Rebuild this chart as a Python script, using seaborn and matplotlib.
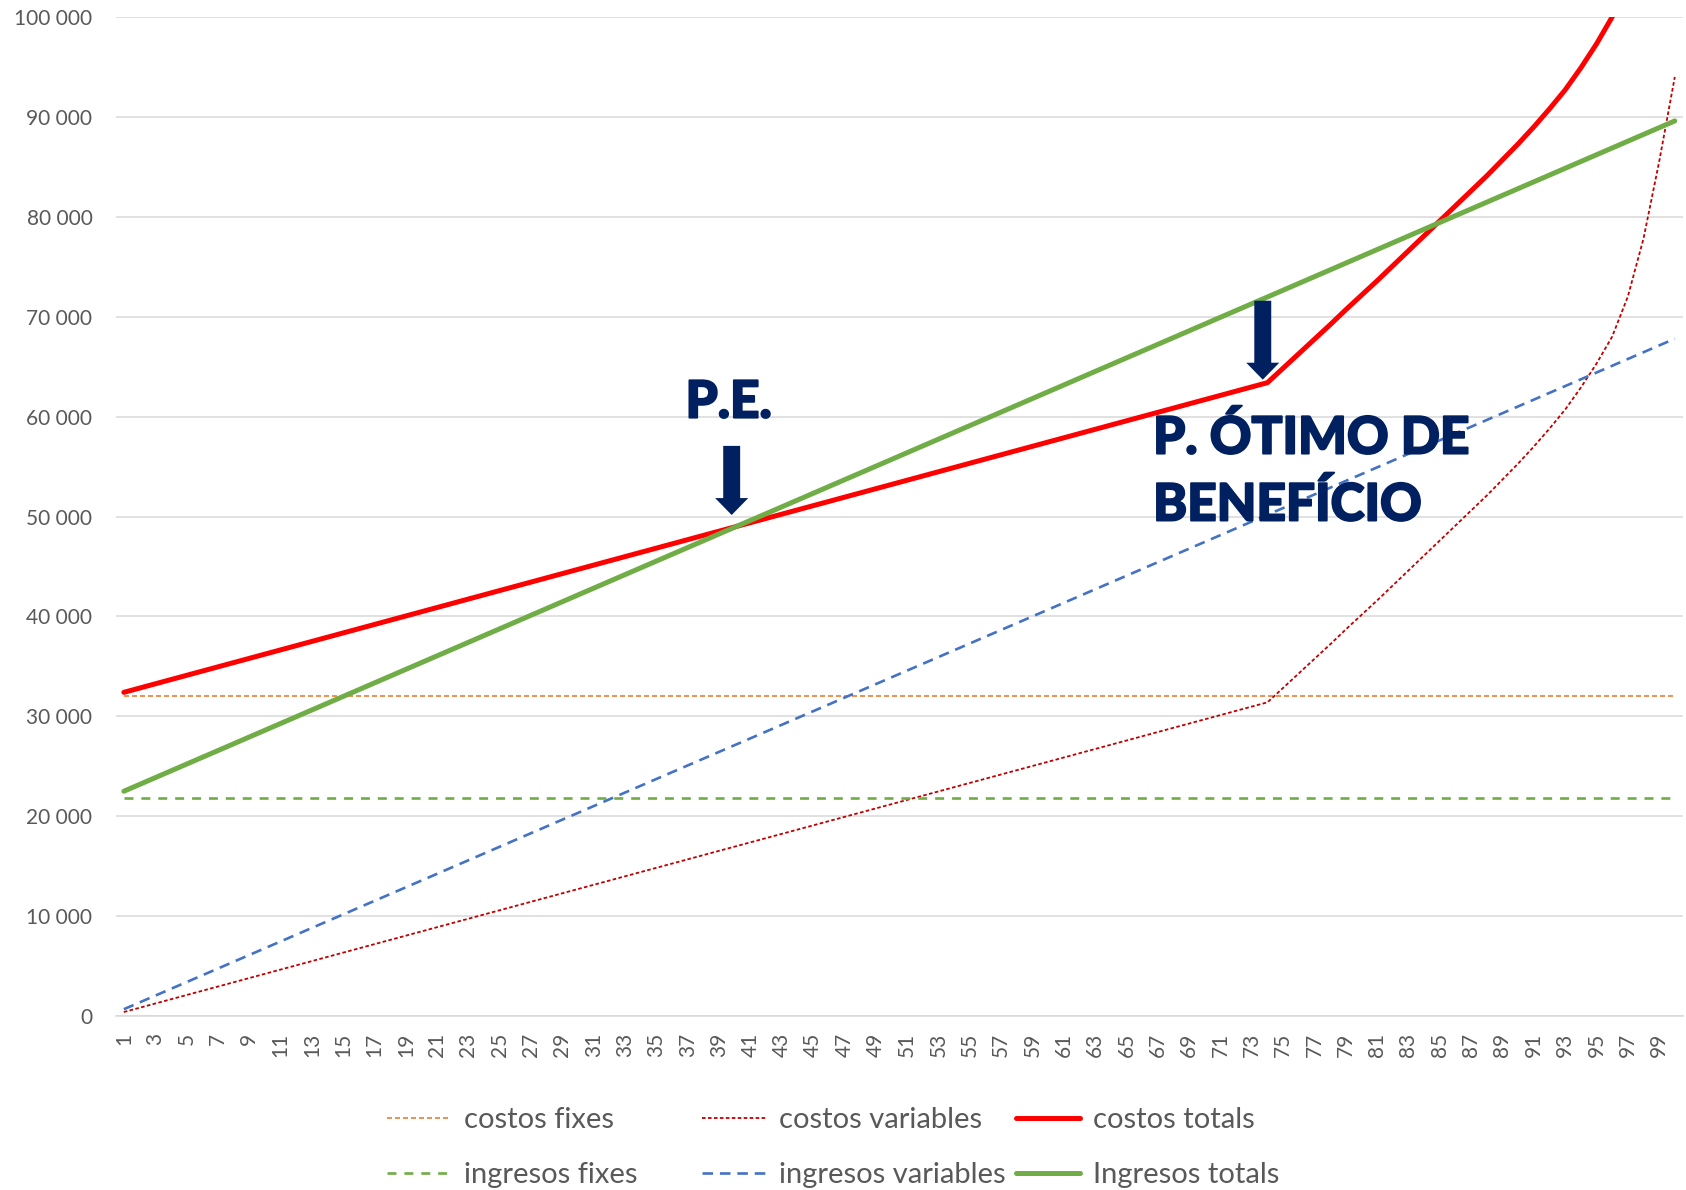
import matplotlib
matplotlib.use("Agg")
import matplotlib.pyplot as plt
import matplotlib.patheffects as path_effects
import seaborn as sns
from matplotlib.ticker import FuncFormatter, MultipleLocator

# data (quantity 1..100)
x_fixes = [1, 100]
costos_fixes = [32000, 32000]
ingresos_fixes = [21800, 21800]

x_ing_var = [1, 100]
ingresos_variables = [680, 67800]
ingresos_totals = [22500, 89600]

x_cost = [1, 74, 75, 76, 77, 78, 79, 80, 81, 82, 83, 84, 85, 86, 87,
          88, 89, 90, 91, 92, 93, 94, 95, 96, 97, 98, 99, 100]
costos_variables = [400, 31400, 32850, 34300, 35750, 37200, 38700, 40150,
                    41600, 43100, 44600, 46100, 47600, 49100, 50600, 52100,
                    53700, 55300, 57000, 58800, 60700, 62900, 65300, 68000,
                    72000, 77800, 85500, 94000]
costos_totals = [32400, 63400, 64850, 66300, 67750, 69200, 70700, 72150,
                 73600, 75100, 76600, 78100, 79600, 81100, 82600, 84100,
                 85700, 87300, 89000, 90800, 92700, 94900, 97300, 100000,
                 104000, 109800, 117500, 126000]

x_ticks = list(range(1, 101, 2))

sns.set_style("white")
plt.rcParams["font.family"] = ["Lato", "DejaVu Sans"]

fig = plt.figure(figsize=(16.86, 11.9), dpi=100)
ax = fig.add_axes([0.0688, 0.1462, 0.9292, 0.8395])

navy = "#002060"

sns.lineplot(x=x_fixes, y=costos_fixes, ax=ax, color="#ED7D31", linewidth=1.2,
             linestyle=(0, (3, 1.8)), label="costos fixes", legend=False)
sns.lineplot(x=x_cost, y=costos_variables, ax=ax, color="#C00000", linewidth=1.3,
             linestyle=(0, (2, 1.3)), label="costos variables", legend=False)
sns.lineplot(x=x_cost, y=costos_totals, ax=ax, color="#FF0000", linewidth=3.6,
             label="costos totals", legend=False)
sns.lineplot(x=x_fixes, y=ingresos_fixes, ax=ax, color="#70AD47", linewidth=1.9,
             linestyle=(0, (3.4, 3.0)), label="ingresos fixes", legend=False)
sns.lineplot(x=x_ing_var, y=ingresos_variables, ax=ax, color="#4472C4", linewidth=1.9,
             linestyle=(0, (4, 2.6)), label="ingresos variables", legend=False)
sns.lineplot(x=x_ing_var, y=ingresos_totals, ax=ax, color="#70AD47", linewidth=3.6,
             label="Ingresos totals", legend=False)

for ln in ax.lines:
    ln.set_solid_capstyle("round")

ax.set_xlim(0.5, 100.5)
ax.set_ylim(0, 100000)
ax.yaxis.set_major_locator(MultipleLocator(10000))
ax.yaxis.set_major_formatter(FuncFormatter(lambda v, p: f"{int(v):,}".replace(",", " ")))
ax.set_xticks(x_ticks)
ax.set_xticklabels([str(t) for t in x_ticks], rotation=90)
ax.tick_params(axis="y", length=0, pad=17, labelsize=15, labelcolor="#595959")
ax.tick_params(axis="x", length=0, pad=12, labelsize=15, labelcolor="#595959")
ax.grid(axis="y", color="#D9D9D9", linewidth=1.1)
ax.set_axisbelow(True)
for s in ["top", "right", "left"]:
    ax.spines[s].set_visible(False)
ax.spines["bottom"].set_color("#D9D9D9")
ax.spines["bottom"].set_linewidth(1.1)
ax.set_xlabel("")
ax.set_ylabel("")

# annotations
pe = [path_effects.withStroke(linewidth=1.4, foreground=navy)]
txt_kw = dict(fontsize=37, fontweight="black", color=navy, va="baseline", path_effects=pe)
ax.text(39.6, 59900, "P.E.", ha="center", **txt_kw)
ax.text(66.7, 56300, "P. ÓTIMO DE", ha="left", **txt_kw)
ax.text(66.7, 49600, "BENEFÍCIO", ha="left", **txt_kw)

arrow_kw = dict(arrowstyle="simple,head_length=1.22,head_width=2.38,tail_width=1.22",
                mutation_scale=10, color=navy, shrinkA=0, shrinkB=0, linewidth=0)
ax.annotate("", xy=(39.8, 50150), xytext=(39.8, 57070), arrowprops=arrow_kw)
ax.annotate("", xy=(73.7, 63700), xytext=(73.7, 71600), arrowprops=arrow_kw)

# legend: three columns, two rows
h = ax.lines[:6]
cols = [(0.2295, [h[0], h[3]]), (0.4164, [h[1], h[4]]), (0.6026, [h[2], h[5]])]
for xpos, hs in cols:
    fig.legend(handles=hs, labels=[l.get_label() for l in hs],
               loc="upper left", bbox_to_anchor=(xpos, 0.0696),
               frameon=False, borderpad=0, borderaxespad=0,
               fontsize=21, handlelength=2.2, handletextpad=0.44,
               labelspacing=1.0, labelcolor="#595959")

fig.savefig("out.png", dpi=100)
